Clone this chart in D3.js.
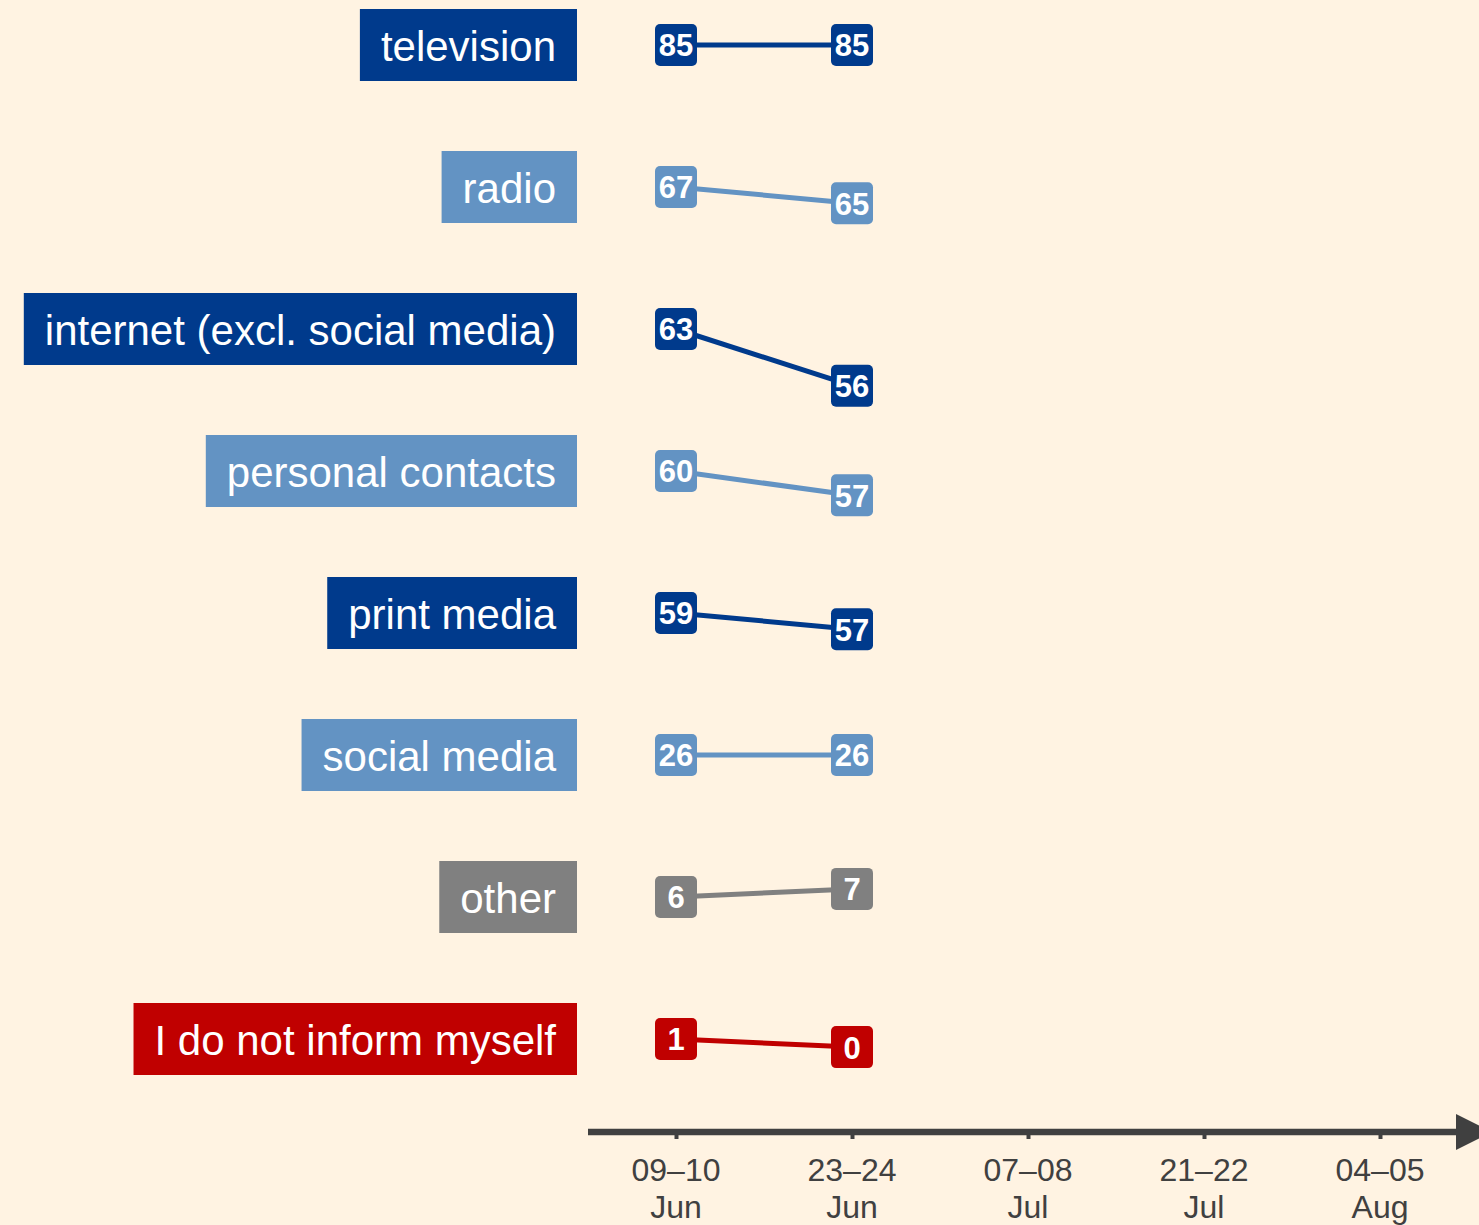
<!DOCTYPE html>
<html>
<head>
<meta charset="utf-8">
<script src="https://cdn.jsdelivr.net/npm/d3@7"></script>
<style>
  html, body { margin: 0; padding: 0; background: #fff3e2; }
  svg { display: block; font-family: "Liberation Sans", Arial, sans-serif; }
</style>
</head>
<body>
<div id="chart"></div>
<script>
const categories = [
  "television", "radio", "internet (excl. social media)", "personal contacts",
  "print media", "social media", "other", "I do not inform myself"
];
const wave1 = [85, 67, 63, 60, 59, 26, 6, 1];
const wave2 = [85, 65, 56, 57, 57, 26, 7, 0];
const waveLabels = [["09–10", "Jun"], ["23–24", "Jun"], ["07–08", "Jul"], ["21–22", "Jul"], ["04–05", "Aug"]];
const colors = ["#003a8c", "#6393c3", "#003a8c", "#6393c3", "#003a8c", "#6393c3", "#808080", "#c00000"];

const W = 1479, H = 1225;
const svg = d3.select("#chart").append("svg").attr("width", W).attr("height", H);
svg.append("rect").attr("width", W).attr("height", H).attr("fill", "#fff3e2");

const xScale = d3.scaleLinear().domain([0, 4]).range([676, 1380]);
const rowY = d3.scalePoint().domain(categories).range([45, 1039]);
// vertical shift within a row, relative to the first wave value
const shift = d3.scaleLinear().domain([0, 10]).range([0, -81]);

const series = categories.map((c, i) => ({
  cat: c,
  color: colors[i],
  pts: [wave1[i], wave2[i]].map((v, j) => ({ w: j, v, y: rowY(c) + shift(v - wave1[i]) }))
}));

// category labels
const labelRight = 577;
const lab = svg.append("g").selectAll("g").data(series).join("g");
lab.each(function (d) {
  const g = d3.select(this);
  const rect = g.append("rect").attr("fill", d.color);
  const t = g.append("text")
    .attr("x", labelRight - 21)
    .attr("y", rowY(d.cat))
    .attr("dy", "0.37em")
    .attr("text-anchor", "end")
    .attr("font-size", "42px")
    .attr("fill", "#fff")
    .text(d.cat);
  const tw = t.node().getComputedTextLength();
  rect.attr("x", labelRight - tw - 42)
    .attr("y", rowY(d.cat) - 36)
    .attr("width", tw + 42)
    .attr("height", 72);
});

// lines
const line = d3.line().x(d => xScale(d.w)).y(d => d.y);
svg.append("g").selectAll("path").data(series).join("path")
  .attr("d", d => line(d.pts))
  .attr("fill", "none")
  .attr("stroke", d => d.color)
  .attr("stroke-width", 5);

// value boxes
const vals = svg.append("g").selectAll("g")
  .data(series.flatMap(s => s.pts.map(p => ({ ...p, color: s.color }))))
  .join("g")
  .attr("transform", d => `translate(${xScale(d.w)},${d.y})`);
vals.append("rect")
  .attr("x", -21).attr("y", -21).attr("width", 42).attr("height", 42)
  .attr("rx", 5).attr("fill", d => d.color);
vals.append("text")
  .attr("text-anchor", "middle")
  .attr("dy", "0.37em")
  .attr("font-size", "31px")
  .attr("font-weight", "bold")
  .attr("fill", "#fff")
  .text(d => d.v);

// time axis
const axisY = 1132;
const axisColor = "#404040";
const axis = svg.append("g").attr("transform", `translate(0,${axisY})`)
  .call(d3.axisBottom(xScale).tickValues(d3.range(waveLabels.length)).tickSize(7).tickFormat(""));
axis.select(".domain").remove();
axis.selectAll(".tick line").attr("stroke", axisColor).attr("stroke-width", 4);

svg.append("line")
  .attr("x1", 588).attr("x2", 1458)
  .attr("y1", axisY).attr("y2", axisY)
  .attr("stroke", axisColor).attr("stroke-width", 6.5);
svg.append("path")
  .attr("d", `M1456,${axisY - 18}L1492,${axisY}L1456,${axisY + 18}Z`)
  .attr("fill", axisColor);

const tl = svg.append("g").selectAll("text").data(waveLabels).join("text")
  .attr("text-anchor", "middle")
  .attr("font-size", "32px")
  .attr("fill", axisColor);
tl.append("tspan").attr("x", (d, i) => xScale(i)).attr("y", 1181).text(d => d[0]);
tl.append("tspan").attr("x", (d, i) => xScale(i)).attr("y", 1218).text(d => d[1]);
</script>
</body>
</html>
